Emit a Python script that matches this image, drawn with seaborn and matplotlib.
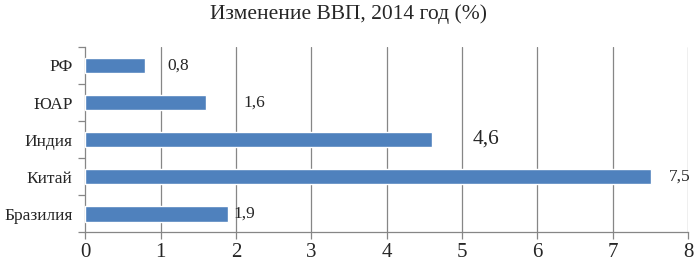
import pandas as pd
import matplotlib.pyplot as plt
import seaborn as sns

# Data
countries = ['РФ', 'ЮАР', 'Индия', 'Китай', 'Бразилия']
gdp_change = [0.8, 1.6, 4.6, 7.5, 1.9]
value_labels = ['0,8', '1,6', '4,6', '7,5', '1,9']

# label look, per bar (the original is a bit uneven)
label_offsets = [16, 27, 29, 13, 3.5]
label_sizes = [12.5, 12.5, 15.5, 12.5, 12.5]

df = pd.DataFrame({'country': countries, 'value': gdp_change})

sns.set_style('white')
plt.rcParams['font.family'] = ['Liberation Serif', 'DejaVu Serif']

fig = plt.figure(figsize=(6.98, 2.64), dpi=100)
ax = fig.add_axes([0.122, 0.121, 0.864, 0.701])

sns.barplot(data=df, x='value', y='country', orient='h', color='#4F81BD',
            saturation=1, width=0.43, ax=ax, zorder=3)

ax.set_xlim(0, 8)
ax.set_ylim(len(countries) - 0.5, -0.5)
ax.set_xticks(range(0, 9))
ax.set_xticklabels([str(i) for i in range(0, 9)], fontsize=15)
ax.set_yticks(range(len(countries)))
ax.set_yticklabels(countries, fontsize=12.5)
ax.set_yticks([i - 0.5 for i in range(len(countries) + 1)], minor=True)
ax.tick_params(axis='y', which='major', left=False, length=0, pad=9)
ax.tick_params(axis='y', which='minor', left=True, length=5, width=0.9,
               color='#868686', direction='out')
ax.tick_params(axis='x', bottom=True, length=5, width=0.9, color='#868686',
               direction='out', pad=3)
ax.set_xlabel('')
ax.set_ylabel('')

for x in range(1, 9):
    ax.axvline(x, color='#868686', lw=0.9, zorder=1)

for s in ['top', 'right']:
    ax.spines[s].set_visible(False)
for s in ['left', 'bottom']:
    ax.spines[s].set_color('#868686')
    ax.spines[s].set_linewidth(0.9)

for i, (v, lab) in enumerate(zip(gdp_change, value_labels)):
    ax.annotate(lab, (v, i), xytext=(label_offsets[i], 0), textcoords='offset points',
                va='center', ha='left', fontsize=label_sizes[i])

fig.suptitle('Изменение ВВП, 2014 год (%)', fontsize=15.5, y=0.985)

fig.savefig('out.png', dpi=100)
